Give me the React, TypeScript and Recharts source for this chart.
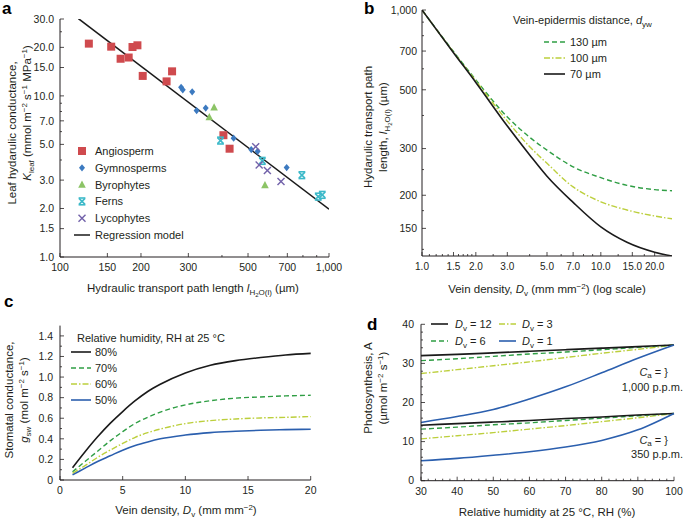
import React from "react";
import { ComposedChart, LineChart, Line, Scatter, XAxis, YAxis } from "recharts";

const FONT = '"Liberation Sans", Arial, sans-serif';
const INK = "#231f20";
const BLACK = "#1a1a1a";
const GREEN = "#2f9e44";
const YELLOW = "#bccf3c";
const BLUE = "#2b5fae";

// ---- panel a: K_leaf vs path length ----
const ANGIO_X = [128, 155, 168, 180, 186, 194, 203, 249, 261, 405, 427];
const ANGIO_Y = [21.1, 20.2, 17.0, 17.3, 20.1, 20.6, 13.3, 12.3, 14.2, 5.7, 4.7];
const GYMNO_X = [282, 286, 310, 322, 348, 442, 514, 543, 696];
const GYMNO_Y = [11.3, 10.9, 10.6, 8.1, 8.4, 5.46, 4.64, 4.53, 3.59];
const BRYO_X = [374, 359, 578];
const BRYO_Y = [8.5, 7.4, 2.8];
const FERN_X = [395, 565, 793, 912, 944];
const FERN_Y = [5.28, 3.95, 3.22, 2.37, 2.43];
const LYCO_X = [534, 550, 590, 663];
const LYCO_Y = [4.84, 3.73, 3.44, 2.94];
const REG_X = [117, 1000];
const REG_Y = [30.2, 1.98];

const A_X_MAJOR = [100, 150, 200, 300, 500, 700, 1000];
const A_X_LABELS = ["100", "150", "200", "300", "500", "700", "1,000"];
const A_X_MINOR = [400, 600, 800, 900];
const A_Y_MAJOR = [1, 1.5, 2, 3, 5, 7, 10, 15, 20, 30];
const A_Y_LABELS = ["1.0", "1.5", "2.0", "3.0", "5.0", "7.0", "10.0", "15.0", "20.0", "30.0"];
const A_Y_MINOR = [4, 6, 8, 9, 25];

// ---- panel b: path length vs vein density ----
const B_DV = [1, 1.5, 2, 3, 4, 5, 7, 10, 14, 20, 25];
const B_130 = [1000, 697, 545, 395, 331, 296, 256, 233, 218, 210, 208];
const B_100 = [1000, 693, 540, 381, 305, 264, 215, 189, 176, 167, 163];
const B_70 = [1000, 690, 533, 365, 284, 236, 188, 152, 133, 122, 118];

const B_X_MAJOR = [1, 1.5, 2, 3, 5, 7, 10, 15, 20];
const B_X_LABELS = ["1.0", "1.5", "2.0", "3.0", "5.0", "7.0", "10.0", "15.0", "20.0"];
const B_X_MINOR = [1.1, 1.2, 1.3, 1.4, 1.6, 1.7, 1.8, 1.9, 2.5, 4, 6, 8, 9, 12.5, 17.5];
const B_Y_MAJOR = [150, 200, 300, 500, 700, 1000];
const B_Y_LABELS = ["150", "200", "300", "500", "700", "1,000"];
const B_Y_MINOR = [125, 175, 250, 400, 600, 800, 900];

// ---- panel c: stomatal conductance vs vein density ----
const C_DV = [1, 2, 3, 4, 5, 6, 7, 8, 10, 12, 14, 16, 18, 20];
const C_80 = [0.12, 0.275, 0.42, 0.55, 0.665, 0.77, 0.86, 0.93, 1.04, 1.115, 1.16, 1.19, 1.215, 1.23];
const C_70 = [0.08, 0.18, 0.28, 0.38, 0.47, 0.55, 0.61, 0.66, 0.73, 0.77, 0.795, 0.807, 0.817, 0.823];
const C_60 = [0.065, 0.14, 0.22, 0.29, 0.355, 0.415, 0.46, 0.495, 0.548, 0.577, 0.593, 0.603, 0.609, 0.616];
const C_50 = [0.05, 0.115, 0.18, 0.235, 0.29, 0.335, 0.37, 0.4, 0.437, 0.46, 0.473, 0.483, 0.489, 0.493];

const C_X_MAJOR = [0, 5, 10, 15, 20];
const C_X_LABELS = ["0", "5", "10", "15", "20"];
const C_Y_MAJOR = [0, 0.2, 0.4, 0.6, 0.8, 1, 1.2, 1.4];
const C_Y_LABELS = ["0", "0.2", "0.4", "0.6", "0.8", "1.0", "1.2", "1.4"];
const C_Y_MINOR = [0.1, 0.3, 0.5, 0.7, 0.9, 1.1, 1.3];

// ---- panel d: photosynthesis vs RH ----
const D_RH = [30, 40, 50, 60, 70, 80, 90, 100];
const D_HI_12 = [32.0, 32.3, 32.7, 33.1, 33.5, 33.9, 34.3, 34.7];
const D_HI_6 = [30.7, 31.2, 31.8, 32.4, 32.9, 33.5, 34.1, 34.7];
const D_HI_3 = [27.4, 28.4, 29.4, 30.4, 31.5, 32.6, 33.6, 34.7];
const D_HI_1 = [14.9, 16.4, 18.2, 20.9, 24.0, 27.6, 31.3, 34.7];
const D_LO_12 = [14.2, 14.6, 15.0, 15.4, 15.9, 16.3, 16.8, 17.2];
const D_LO_6 = [13.2, 13.7, 14.3, 14.8, 15.4, 16.0, 16.6, 17.2];
const D_LO_3 = [10.7, 11.5, 12.3, 13.2, 14.1, 15.1, 16.1, 17.2];
const D_LO_1 = [5.1, 5.7, 6.5, 7.4, 8.6, 10.3, 13.0, 17.2];

const D_X_MAJOR = [30, 40, 50, 60, 70, 80, 90, 100];
const D_X_LABELS = ["30", "40", "50", "60", "70", "80", "90", "100"];
const D_X_MINOR = [32, 34, 36, 38, 42, 44, 46, 48, 52, 54, 56, 58, 62, 64, 66, 68, 72, 74, 76, 78, 82, 84, 86, 88, 92, 94, 96, 98];
const D_Y_MAJOR = [0, 10, 20, 30, 40];
const D_Y_LABELS = ["0", "10", "20", "30", "40"];
const D_Y_MINOR = [2, 4, 6, 8, 12, 14, 16, 18, 22, 24, 26, 28, 32, 34, 36, 38];

const pts = (xs: number[], ys: number[]) => xs.map((x, i) => ({ x, y: ys[i] }));

const bRows = B_DV.map((dv, i) => ({ dv, d130: B_130[i], d100: B_100[i], d70: B_70[i] }));
const cRows = C_DV.map((dv, i) => ({ dv, h80: C_80[i], h70: C_70[i], h60: C_60[i], h50: C_50[i] }));
const dRows = D_RH.map((rh, i) => ({
  rh,
  hi12: D_HI_12[i], hi6: D_HI_6[i], hi3: D_HI_3[i], hi1: D_HI_1[i],
  lo12: D_LO_12[i], lo6: D_LO_6[i], lo3: D_LO_3[i], lo1: D_LO_1[i],
}));

const TICK_FS = 10.5;
const TITLE_FS = 11.5;

function makeTick(side: "bottom" | "left", major: number[], labels: string[], margin: number, fs = TICK_FS) {
  return (props: any) => {
    const { x, y, payload } = props;
    const idx = major.indexOf(payload.value);
    const label = idx >= 0 ? labels[idx] : null;
    const len = label !== null ? 4 : 2;
    if (side === "bottom") {
      const y0 = y - margin;
      return (
        <g>
          <line x1={x} x2={x} y1={y0} y2={y0 - len} stroke={INK} strokeWidth={0.8} />
          {label !== null && (
            <text x={x} y={y} dy="0.75em" textAnchor="middle" fontSize={fs} fontFamily={FONT} fill={INK}>
              {label}
            </text>
          )}
        </g>
      );
    }
    const x0 = x + margin;
    return (
      <g>
        <line x1={x0} x2={x0 + len} y1={y} y2={y} stroke={INK} strokeWidth={0.8} />
        {label !== null && (
          <text x={x} y={y} dy="0.36em" textAnchor="end" fontSize={fs} fontFamily={FONT} fill={INK}>
            {label}
          </text>
        )}
      </g>
    );
  };
}

type Kind = "angio" | "gymno" | "bryo" | "fern" | "lyco";
const MARK_COLOR: Record<Kind, string> = {
  angio: "#cf4a4e",
  gymno: "#3c7ac0",
  bryo: "#8cc466",
  fern: "#3cb9c9",
  lyco: "#7262aa",
};

function marker(kind: Kind, cx: number, cy: number) {
  const c = MARK_COLOR[kind];
  if (kind === "angio") return <rect x={cx - 4} y={cy - 4} width={8} height={8} fill={c} />;
  if (kind === "gymno")
    return <polygon points={`${cx},${cy - 3.6} ${cx + 3},${cy} ${cx},${cy + 3.6} ${cx - 3},${cy}`} fill={c} />;
  if (kind === "bryo")
    return <polygon points={`${cx},${cy - 4} ${cx + 3.8},${cy + 3.2} ${cx - 3.8},${cy + 3.2}`} fill={c} />;
  if (kind === "fern")
    return (
      <g stroke={c} strokeWidth={1.6}>
        <line x1={cx - 3} y1={cy - 3} x2={cx + 3} y2={cy + 3} />
        <line x1={cx + 3} y1={cy - 3} x2={cx - 3} y2={cy + 3} />
        <line x1={cx - 3.4} y1={cy - 3.4} x2={cx + 3.4} y2={cy - 3.4} />
        <line x1={cx - 3.4} y1={cy + 3.4} x2={cx + 3.4} y2={cy + 3.4} />
      </g>
    );
  return (
    <g stroke={c} strokeWidth={1.4}>
      <line x1={cx - 3.5} y1={cy - 3.5} x2={cx + 3.5} y2={cy + 3.5} />
      <line x1={cx + 3.5} y1={cy - 3.5} x2={cx - 3.5} y2={cy + 3.5} />
    </g>
  );
}

const shapeOf = (kind: Kind) => (p: any) => marker(kind, p.cx, p.cy);
const noShape = () => <g />;

const axisLine = { stroke: INK, strokeWidth: 1 };

function PanelA() {
  return (
    <ComposedChart width={350} height={300} margin={{ top: 19, right: 21, bottom: 13, left: 20 }}>
      <XAxis
        type="number"
        dataKey="x"
        scale="log"
        domain={[100, 1000]}
        allowDataOverflow
        ticks={[...A_X_MAJOR, ...A_X_MINOR]}
        interval={0}
        tickLine={false}
        tickSize={0}
        tickMargin={6}
        height={30}
        axisLine={axisLine}
        tick={makeTick("bottom", A_X_MAJOR, A_X_LABELS, 6)}
      />
      <YAxis
        type="number"
        dataKey="y"
        scale="log"
        domain={[1, 30]}
        allowDataOverflow
        ticks={[...A_Y_MAJOR, ...A_Y_MINOR]}
        interval={0}
        tickLine={false}
        tickSize={0}
        tickMargin={6}
        width={40}
        axisLine={axisLine}
        tick={makeTick("left", A_Y_MAJOR, A_Y_LABELS, 6)}
      />
      <Scatter data={pts(REG_X, REG_Y)} line={{ stroke: BLACK, strokeWidth: 1.5 }} shape={noShape} isAnimationActive={false} />
      <Scatter data={pts(ANGIO_X, ANGIO_Y)} shape={shapeOf("angio")} isAnimationActive={false} />
      <Scatter data={pts(GYMNO_X, GYMNO_Y)} shape={shapeOf("gymno")} isAnimationActive={false} />
      <Scatter data={pts(BRYO_X, BRYO_Y)} shape={shapeOf("bryo")} isAnimationActive={false} />
      <Scatter data={pts(FERN_X, FERN_Y)} shape={shapeOf("fern")} isAnimationActive={false} />
      <Scatter data={pts(LYCO_X, LYCO_Y)} shape={shapeOf("lyco")} isAnimationActive={false} />
    </ComposedChart>
  );
}

const solid = (color: string) => ({ stroke: color, strokeWidth: 1.6 });
const dashed = { stroke: GREEN, strokeWidth: 1.4, strokeDasharray: "5 3" };
const dashDot = { stroke: YELLOW, strokeWidth: 1.4, strokeDasharray: "6 2 1.5 2" };

function PanelB() {
  return (
    <LineChart width={345} height={300} data={bRows} margin={{ top: 10, right: 13, bottom: 14, left: 42 }}>
      <XAxis
        type="number"
        dataKey="dv"
        scale="log"
        domain={[1, 25]}
        allowDataOverflow
        ticks={[...B_X_MAJOR, ...B_X_MINOR]}
        interval={0}
        tickLine={false}
        tickSize={0}
        tickMargin={6}
        height={30}
        axisLine={axisLine}
        tick={makeTick("bottom", B_X_MAJOR, B_X_LABELS, 6, 10)}
      />
      <YAxis
        type="number"
        scale="log"
        domain={[118, 1000]}
        allowDataOverflow
        ticks={[...B_Y_MAJOR, ...B_Y_MINOR]}
        interval={0}
        tickLine={false}
        tickSize={0}
        tickMargin={5}
        width={40}
        axisLine={axisLine}
        tick={makeTick("left", B_Y_MAJOR, B_Y_LABELS, 5)}
      />
      <Line type="monotone" dataKey="d130" dot={false} {...dashed} isAnimationActive={false} />
      <Line type="monotone" dataKey="d100" dot={false} {...dashDot} isAnimationActive={false} />
      <Line type="monotone" dataKey="d70" dot={false} {...solid(BLACK)} isAnimationActive={false} />
    </LineChart>
  );
}

function PanelC() {
  return (
    <LineChart width={340} height={222} data={cRows} margin={{ top: 25.6, right: 29.3, bottom: 12, left: 20 }}>
      <XAxis
        type="number"
        dataKey="dv"
        domain={[0, 20]}
        ticks={C_X_MAJOR}
        interval={0}
        tickLine={false}
        tickSize={0}
        tickMargin={6}
        height={30}
        axisLine={axisLine}
        tick={makeTick("bottom", C_X_MAJOR, C_X_LABELS, 6)}
      />
      <YAxis
        type="number"
        domain={[0, 1.5]}
        ticks={[...C_Y_MAJOR, ...C_Y_MINOR]}
        interval={0}
        tickLine={false}
        tickSize={0}
        tickMargin={7}
        width={40}
        axisLine={axisLine}
        tick={makeTick("left", C_Y_MAJOR, C_Y_LABELS, 7)}
      />
      <Line type="monotone" dataKey="h80" dot={false} {...solid(BLACK)} isAnimationActive={false} />
      <Line type="monotone" dataKey="h70" dot={false} {...dashed} isAnimationActive={false} />
      <Line type="monotone" dataKey="h60" dot={false} {...dashDot} isAnimationActive={false} />
      <Line type="monotone" dataKey="h50" dot={false} {...solid(BLUE)} isAnimationActive={false} />
    </LineChart>
  );
}

function PanelD() {
  return (
    <LineChart width={345} height={222} data={dRows} margin={{ top: 24.3, right: 11, bottom: 11.3, left: 41 }}>
      <XAxis
        type="number"
        dataKey="rh"
        domain={[30, 100]}
        ticks={[...D_X_MAJOR, ...D_X_MINOR]}
        interval={0}
        tickLine={false}
        tickSize={0}
        tickMargin={6}
        height={30}
        axisLine={axisLine}
        tick={makeTick("bottom", D_X_MAJOR, D_X_LABELS, 6)}
      />
      <YAxis
        type="number"
        domain={[0, 40]}
        ticks={[...D_Y_MAJOR, ...D_Y_MINOR]}
        interval={0}
        tickLine={false}
        tickSize={0}
        tickMargin={7}
        width={40}
        axisLine={axisLine}
        tick={makeTick("left", D_Y_MAJOR, D_Y_LABELS, 7)}
      />
      <Line type="monotone" dataKey="hi3" dot={false} {...dashDot} isAnimationActive={false} />
      <Line type="monotone" dataKey="hi6" dot={false} {...dashed} isAnimationActive={false} />
      <Line type="monotone" dataKey="hi12" dot={false} {...solid(BLACK)} isAnimationActive={false} />
      <Line type="monotone" dataKey="hi1" dot={false} {...solid(BLUE)} isAnimationActive={false} />
      <Line type="monotone" dataKey="lo3" dot={false} {...dashDot} isAnimationActive={false} />
      <Line type="monotone" dataKey="lo6" dot={false} {...dashed} isAnimationActive={false} />
      <Line type="monotone" dataKey="lo12" dot={false} {...solid(BLACK)} isAnimationActive={false} />
      <Line type="monotone" dataKey="lo1" dot={false} {...solid(BLUE)} isAnimationActive={false} />
    </LineChart>
  );
}

const A_LEGEND: { kind: Kind | "reg"; label: string }[] = [
  { kind: "angio", label: "Angiosperm" },
  { kind: "gymno", label: "Gymnosperms" },
  { kind: "bryo", label: "Byrophytes" },
  { kind: "fern", label: "Ferns" },
  { kind: "lyco", label: "Lycophytes" },
  { kind: "reg", label: "Regression model" },
];

const txt = { fontFamily: FONT, fill: INK };

function RotLabel({ cx, cy, children }: { cx: number; cy: number; children: React.ReactNode }) {
  return (
    <text transform={`translate(${cx},${cy}) rotate(-90)`} textAnchor="middle" dy="0.35em" fontSize={TITLE_FS} {...txt}>
      {children}
    </text>
  );
}

const Sub = ({ children, d = 3, fs = 8 }: { children: React.ReactNode; d?: number; fs?: number }) => (
  <tspan dy={d} fontSize={fs}>{children}</tspan>
);

function LegendLine({ x1, x2, y, style }: { x1: number; x2: number; y: number; style: any }) {
  return <line x1={x1} x2={x2} y1={y} y2={y} {...style} />;
}

function Overlay() {
  return (
    <svg width={685} height={522} style={{ position: "absolute", left: 0, top: 0, pointerEvents: "none" }}>
      {/* panel letters */}
      <g fontFamily={FONT} fontWeight="bold" fontSize={17} fill="#000">
        <text x={2} y={14}>a</text>
        <text x={364} y={14}>b</text>
        <text x={4} y={307}>c</text>
        <text x={367} y={330}>d</text>
      </g>

      {/* panel a */}
      {A_LEGEND.map((it, i) => {
        const cy = 151 + i * 16.8;
        return (
          <g key={it.label}>
            {it.kind === "reg" ? (
              <line x1={74} x2={90} y1={cy} y2={cy} stroke={BLACK} strokeWidth={1.5} />
            ) : (
              marker(it.kind, 82, cy)
            )}
            <text x={95} y={cy} dy="0.36em" fontSize={11} {...txt}>{it.label}</text>
          </g>
        );
      })}
      <text x={193} y={288} dy="0.35em" textAnchor="middle" fontSize={TITLE_FS} {...txt}>
        Hydraulic transport path length <tspan fontStyle="italic">l</tspan>
        <Sub>H</Sub>
        <tspan dy={2} fontSize={6}>2</tspan>
        <tspan dy={-2} fontSize={8}>O(l)</tspan>
        <tspan dy={-3}> (µm)</tspan>
      </text>
      <RotLabel cx={12} cy={133}>Leaf hydarulic conductance,</RotLabel>
      <RotLabel cx={27} cy={113}>
        <tspan fontStyle="italic">K</tspan>
        <Sub>leaf</Sub>
        <tspan dy={-3}> (mmol m</tspan>
        <tspan dy={-4} fontSize={8}>−2</tspan>
        <tspan dy={4}> s</tspan>
        <tspan dy={-4} fontSize={8}>−1</tspan>
        <tspan dy={4}> MPa</tspan>
        <tspan dy={-4} fontSize={8}>−1</tspan>
        <tspan dy={4}>)</tspan>
      </RotLabel>

      {/* panel b */}
      <text x={513} y={20} dy="0.35em" fontSize={11} {...txt}>
        Vein-epidermis distance, <tspan fontStyle="italic">d</tspan>
        <Sub>yw</Sub>
      </text>
      <LegendLine x1={544} x2={565} y={42} style={dashed} />
      <LegendLine x1={544} x2={565} y={58} style={dashDot} />
      <LegendLine x1={544} x2={565} y={74} style={solid(BLACK)} />
      <text x={570} y={42} dy="0.36em" fontSize={11} {...txt}>130 µm</text>
      <text x={570} y={58} dy="0.36em" fontSize={11} {...txt}>100 µm</text>
      <text x={570} y={74} dy="0.36em" fontSize={11} {...txt}>70 µm</text>
      <RotLabel cx={368} cy={127}>Hydarulic transport path</RotLabel>
      <RotLabel cx={383} cy={127}>
        length, <tspan fontStyle="italic">l</tspan>
        <Sub>H</Sub>
        <tspan dy={2} fontSize={6}>2</tspan>
        <tspan dy={-2} fontSize={8}>O(l)</tspan>
        <tspan dy={-3}> (µm)</tspan>
      </RotLabel>
      <text x={547} y={289} dy="0.35em" textAnchor="middle" fontSize={TITLE_FS} {...txt}>
        Vein density, <tspan fontStyle="italic">D</tspan>
        <Sub>v</Sub>
        <tspan dy={-3}> (mm mm</tspan>
        <tspan dy={-4} fontSize={8}>−2</tspan>
        <tspan dy={4}>) (log scale)</tspan>
      </text>

      {/* panel c */}
      <text x={77} y={338} dy="0.35em" fontSize={11} {...txt}>Relative humidity, RH at 25 °C</text>
      <LegendLine x1={71} x2={91} y={352} style={solid(BLACK)} />
      <LegendLine x1={71} x2={91} y={368} style={dashed} />
      <LegendLine x1={71} x2={91} y={384} style={dashDot} />
      <LegendLine x1={71} x2={91} y={400} style={solid(BLUE)} />
      <text x={95} y={352} dy="0.36em" fontSize={11} {...txt}>80%</text>
      <text x={95} y={368} dy="0.36em" fontSize={11} {...txt}>70%</text>
      <text x={95} y={384} dy="0.36em" fontSize={11} {...txt}>60%</text>
      <text x={95} y={400} dy="0.36em" fontSize={11} {...txt}>50%</text>
      <RotLabel cx={9} cy={400}>Stomatal conductance,</RotLabel>
      <RotLabel cx={24} cy={400}>
        <tspan fontStyle="italic">g</tspan>
        <Sub>sw</Sub>
        <tspan dy={-3}> (mol m</tspan>
        <tspan dy={-4} fontSize={8}>−2</tspan>
        <tspan dy={4}> s</tspan>
        <tspan dy={-4} fontSize={8}>−1</tspan>
        <tspan dy={4}>)</tspan>
      </RotLabel>
      <text x={186} y={510} dy="0.35em" textAnchor="middle" fontSize={TITLE_FS} {...txt}>
        Vein density, <tspan fontStyle="italic">D</tspan>
        <Sub>v</Sub>
        <tspan dy={-3}> (mm mm</tspan>
        <tspan dy={-4} fontSize={8}>−2</tspan>
        <tspan dy={4}>)</tspan>
      </text>

      {/* panel d */}
      <LegendLine x1={431} x2={448} y={324} style={solid(BLACK)} />
      <LegendLine x1={431} x2={448} y={341} style={dashed} />
      <LegendLine x1={499} x2={516} y={324} style={dashDot} />
      <LegendLine x1={499} x2={516} y={341} style={solid(BLUE)} />
      {[
        { x: 455, y: 324, v: "12" },
        { x: 455, y: 341, v: "6" },
        { x: 522, y: 324, v: "3" },
        { x: 522, y: 341, v: "1" },
      ].map((it) => (
        <text key={it.v} x={it.x} y={it.y} dy="0.36em" fontSize={11} {...txt}>
          <tspan fontStyle="italic">D</tspan>
          <Sub>v</Sub>
          <tspan dy={-3}> = {it.v}</tspan>
        </text>
      ))}
      <text x={668} y={372} dy="0.35em" textAnchor="end" fontSize={11} {...txt}>
        <tspan fontStyle="italic">C</tspan>
        <Sub d={2}>a</Sub>
        <tspan dy={-2}>{" = }"}</tspan>
      </text>
      <text x={683} y={387} dy="0.35em" textAnchor="end" fontSize={11} {...txt}>1,000 p.p.m.</text>
      <text x={668} y={440} dy="0.35em" textAnchor="end" fontSize={11} {...txt}>
        <tspan fontStyle="italic">C</tspan>
        <Sub d={2}>a</Sub>
        <tspan dy={-2}>{" = }"}</tspan>
      </text>
      <text x={683} y={454} dy="0.35em" textAnchor="end" fontSize={11} {...txt}>350 p.p.m.</text>
      <RotLabel cx={368} cy={388}>Photosynthesis, A</RotLabel>
      <RotLabel cx={383} cy={388}>
        (µmol m
        <tspan dy={-4} fontSize={8}>−2</tspan>
        <tspan dy={4}> s</tspan>
        <tspan dy={-4} fontSize={8}>−1</tspan>
        <tspan dy={4}>)</tspan>
      </RotLabel>
      <text x={547} y={512} dy="0.35em" textAnchor="middle" fontSize={TITLE_FS} {...txt}>
        Relative humidity at 25 °C, RH (%)
      </text>
    </svg>
  );
}

export default function App() {
  return (
    <div style={{ position: "absolute", left: 0, top: 0, width: 685, height: 522, background: "#fff", fontFamily: FONT }}>
      <div style={{ position: "absolute", left: 0, top: 0 }}>
        <PanelA />
      </div>
      <div style={{ position: "absolute", left: 340, top: 0 }}>
        <PanelB />
      </div>
      <div style={{ position: "absolute", left: 0, top: 300 }}>
        <PanelC />
      </div>
      <div style={{ position: "absolute", left: 340, top: 300 }}>
        <PanelD />
      </div>
      <Overlay />
    </div>
  );
}
